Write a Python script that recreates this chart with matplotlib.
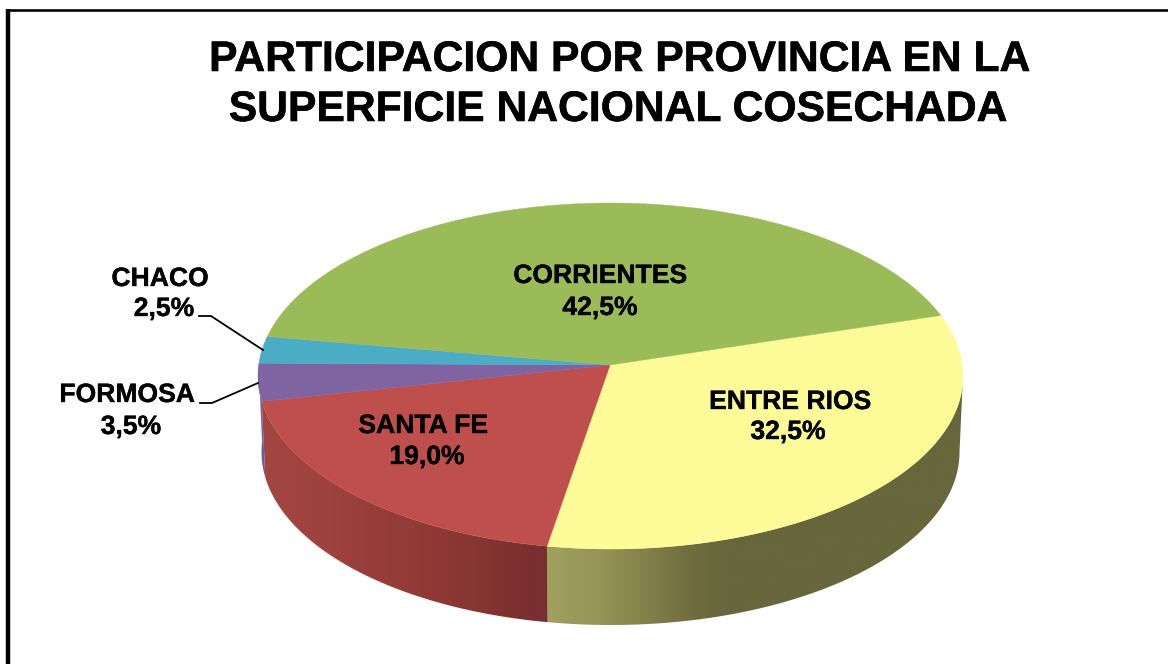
import numpy as np
import matplotlib
matplotlib.use("Agg")
import matplotlib.pyplot as plt
import matplotlib.patheffects as pe
from matplotlib.patches import Polygon

plt.rcParams['font.family'] = ['Liberation Sans', 'DejaVu Sans']

## Data, clockwise from the Corrientes / Entre Rios boundary
provinces = ["ENTRE RIOS", "SANTA FE", "FORMOSA", "CHACO", "CORRIENTES"]
shares = [32.5, 19.0, 3.5, 2.5, 42.5]
top_colors = ["#FCFB97", "#BE4F4C", "#8064A2", "#4BACC6", "#9BBB59"]
title_lines = ["PARTICIPACION POR PROVINCIA EN LA", "SUPERFICIE NACIONAL COSECHADA"]

# Side shading by pixel column
red_x = [262, 330, 400, 470, 530, 547]
red_rgb = [(163, 70, 66), (158, 66, 62), (148, 60, 56), (136, 54, 50), (122, 48, 48), (120, 47, 47)]
yellow_x = [547, 600, 650, 690, 725, 965]
yellow_rgb = [(160, 160, 95), (150, 148, 86), (130, 126, 74), (112, 110, 64), (103, 102, 60), (103, 102, 60)]

## Pie geometry (pixels)
cx, cy, rx, ry = 610.5, 376, 352.5, 173
apex = (610, 365)
depth, rx_low = 76, 349
start = 17.2
warp = 0.06


def rim(theta, low=False):
    # near side of the pie looks a bit bigger
    t = theta + warp * np.cos(theta)
    if low:
        return cx + rx_low * np.cos(t), cy + depth - ry * np.sin(t)
    return cx + rx * np.cos(t), cy - ry * np.sin(t)


fig = plt.figure(figsize=(11.68, 6.64), dpi=100)
ax = fig.add_axes([0, 0, 1, 1])
ax.axis("off")

# Boundaries of the slices, in radians
bounds = np.radians(start - np.concatenate([[0], np.cumsum(shares)]) * 3.6)


## Side wall
def draw_side(a, b, xs_stop, rgb_stop):
    th = np.linspace(a, b, 300)
    xu, yu = rim(th)
    xl, yl = rim(th, low=True)
    verts = np.c_[np.r_[xu, xl[::-1]], np.r_[yu, yl[::-1]]]
    poly = Polygon(verts, closed=True, facecolor="none", edgecolor="none", transform=ax.transData)
    ax.add_patch(poly)
    col = np.arange(int(verts[:, 0].min()) - 1, int(verts[:, 0].max()) + 2)
    rgb = np.array(rgb_stop) / 255
    row = np.stack([np.interp(col, xs_stop, rgb[:, i]) for i in range(3)], axis=1)
    im = ax.imshow(row[np.newaxis, :, :], extent=(col[0], col[-1], verts[:, 1].max() + 1, verts[:, 1].min() - 1),
                   aspect="auto", interpolation="bilinear", zorder=1)
    im.set_clip_path(poly)


draw_side(np.radians(-3.4), bounds[1], yellow_x, yellow_rgb)
draw_side(bounds[1], bounds[2], red_x, red_rgb)
ax.fill(*zip(*[rim(a) for a in np.linspace(bounds[2], np.radians(-180), 30)],
             *[rim(a, low=True) for a in np.linspace(np.radians(-180), bounds[2], 30)]),
        color="#6B5C9E", lw=0, zorder=0.5)

## Top face
for i in range(len(shares)):
    th = np.linspace(bounds[i], bounds[i + 1], 200)
    xs, ys = rim(th)
    ax.fill(np.r_[apex[0], xs], np.r_[apex[1], ys], color=top_colors[i], lw=0.3, zorder=2)


## Labels
def pct(p):
    return f"{p:.1f}".replace(".", ",") + "%"


label_font = dict(fontsize=19.1, fontweight="bold", color="black", ha="center", va="center", zorder=4,
                  path_effects=[pe.withStroke(linewidth=0.25, foreground="black")])
name_pos = [(790, 402), (423, 426), (127, 395), (160, 279), (600, 276)]
pct_pos = [(788, 432), (427, 457), (131, 427), (164, 309), (600, 308)]
for i in range(len(provinces)):
    ax.text(*name_pos[i], provinces[i], **label_font)
    ax.text(*pct_pos[i], pct(shares[i]), **label_font)

# Leader lines
ax.plot([199, 211, 263], [316, 316, 350], color="black", lw=1.3, zorder=3)
ax.plot([200, 212, 258], [403, 403, 383], color="black", lw=1.3, zorder=3)

## Title
title_font = dict(fontsize=30.7, fontweight="bold", ha="center", va="center",
                  path_effects=[pe.withStroke(linewidth=0.4, foreground="black")])
ax.text(620, 60, title_lines[0], **title_font)
ax.text(618, 110, title_lines[1], **title_font)

## Frame, open on the right and bottom
ax.plot([7.7, 7.7], [664, 8.9], color="black", lw=3.2, solid_capstyle="butt")
ax.plot([5.5, 1168], [10.3, 10.3], color="black", lw=1.9, solid_capstyle="butt")

ax.set_xlim(0, 1168)
ax.set_ylim(664, 0)

fig.savefig("out.png", dpi=100)
